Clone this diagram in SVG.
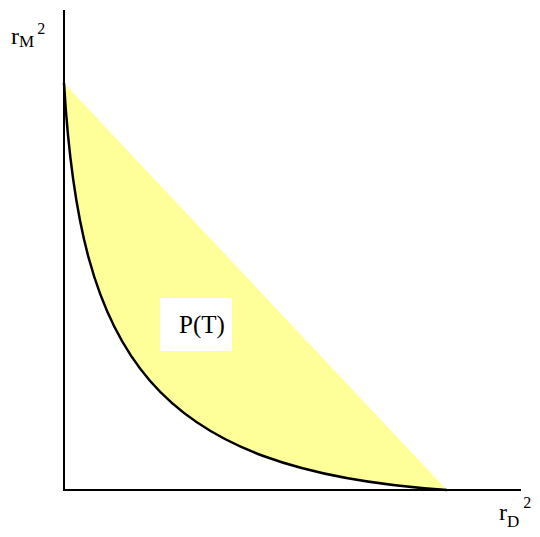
<svg xmlns="http://www.w3.org/2000/svg" width="540" height="537" viewBox="0 0 540 537">
<style>
.t{font-family:"Liberation Serif","Times New Roman",serif;fill:#000}
.axis{stroke:#000;stroke-width:2;fill:none}
</style>
<rect width="540" height="537" fill="#fff"/>
<g id="region">
<path d="M64,83 L447,490 C150,470 80,355 64,83 Z" fill="#ffff99"/>
</g>
<g id="connectors">
<line class="axis" x1="64" y1="10" x2="64" y2="491"/>
<line class="axis" x1="63" y1="490" x2="521" y2="490"/>
<path d="M64,83 C80,355 150,470 447,490" fill="none" stroke="#000" stroke-width="2.5"/>
</g>
<g id="label-PT">
<rect x="160" y="298" width="72" height="53" fill="#fff"/>
<text class="t" x="179" y="333" font-size="25">P(T)</text>
</g>
<g id="label-y">
<text class="t" x="11" y="44" font-size="24">r<tspan font-size="17" dy="3">M</tspan><tspan font-size="16" dx="3" dy="-13">2</tspan></text>
</g>
<g id="label-x">
<text class="t" x="499" y="520" font-size="24">r<tspan font-size="17" dy="7">D</tspan><tspan font-size="16" dx="4" dy="-19">2</tspan></text>
</g>
</svg>
